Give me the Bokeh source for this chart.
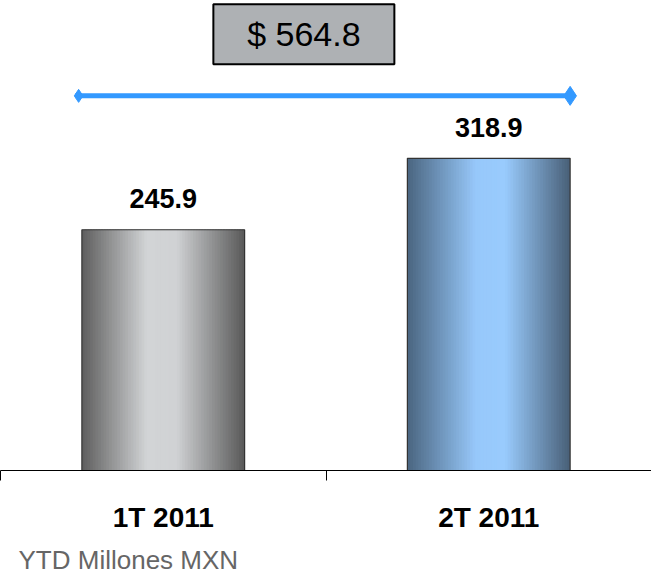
from bokeh.plotting import figure
from bokeh.models import Range1d, FixedTicker, Title
from bokeh.embed import file_html
from bokeh.resources import INLINE
from bokeh.core.properties import value

# ---- data ----
categories = ["1T 2011", "2T 2011"]
values = [245.9, 318.9]
unit_note = "YTD Millones MXN"

# gradient stops per bar: (fraction across bar, colour)
gray_stops = [(0.0, "#5e5e5e"), (0.40, "#d2d4d6"), (0.58, "#d0d2d4"), (1.0, "#595959")]
blue_stops = [(0.0, "#4a6580"), (0.42, "#97c8fa"), (0.60, "#99cbfd"), (1.0, "#485f77")]
bar_stops = [gray_stops, blue_stops]

FONT = "Liberation Sans"


def hex2rgb(h):
    h = h.lstrip("#")
    return tuple(int(h[i:i + 2], 16) for i in (0, 2, 4))


def interp(stops, t):
    for (t0, c0), (t1, c1) in zip(stops[:-1], stops[1:]):
        if t0 <= t <= t1:
            f = 0 if t1 == t0 else (t - t0) / (t1 - t0)
            a, b = hex2rgb(c0), hex2rgb(c1)
            r = [round(a[k] + (b[k] - a[k]) * f) for k in range(3)]
            return "#%02x%02x%02x" % tuple(r)
    return stops[-1][1]


cx = [i + 0.5 for i in range(len(categories))]
bar_w = 0.5

p = figure(width=651, height=582, output_backend="svg", toolbar_location=None,
           x_range=Range1d(0, len(categories)), y_range=Range1d(0, 480.1),
           y_axis_location=None, min_border_left=0, min_border_right=0,
           min_border_top=0, min_border_bottom=112)
p.outline_line_color = None
p.xgrid.visible = False
p.ygrid.visible = False
p.background_fill_color = "white"
p.border_fill_color = "white"

# gradient bars built from overlapping strips
N = 60
for i, v in enumerate(values):
    left = cx[i] - bar_w / 2
    step = bar_w / N
    lefts = [left + k * step for k in range(N)]
    rights = [min(left + (k + 1.8) * step, left + bar_w) for k in range(N)]
    cols = [interp(bar_stops[i], (k + 0.5) / N) for k in range(N)]
    p.quad(left=lefts, right=rights, bottom=[0] * N, top=[v] * N,
           fill_color=cols, line_color=None)
p.quad(left=[c - bar_w / 2 for c in cx], right=[c + bar_w / 2 for c in cx],
       bottom=[0] * len(values), top=values, fill_color=None,
       line_color="#333333", line_width=1.2)

# value labels
p.text(x=cx, y=values, text=["%.1f" % v for v in values], text_align="center",
       text_baseline="alphabetic", y_offset=-31, text_font=value(FONT),
       text_font_size="27px", text_font_style="bold", text_color="#000000")

# total bracket
total = sum(values)
bracket_y = max(values) * 1.2
x_left = cx[0] - 0.27
x_right = cx[-1] + 0.26
p.segment(x0=[x_left], y0=[bracket_y], x1=[x_right], y1=[bracket_y],
          line_color="#3399ff", line_width=5)
p.scatter(x=[x_left + 0.01], y=[bracket_y], marker="diamond", size=13,
          fill_color="#3399ff", line_color="#3399ff")
p.scatter(x=[x_right - 0.01], y=[bracket_y], marker="diamond", size=19,
          fill_color="#3399ff", line_color="#3399ff")

# total box
box_x = 0.932
box_y = max(values) * 1.397
p.rect(x=[box_x], y=[box_y], width=181, height=60, width_units="screen",
       height_units="screen", fill_color="#aeb1b4", line_color="#000000",
       line_width=2)
p.text(x=[box_x], y=[box_y], text=["$ %.1f" % total], text_align="center",
       text_baseline="middle", text_font=value(FONT), text_font_size="34px",
       text_color="#000000")

# category axis
ax = p.xaxis[0]
ax.ticker = FixedTicker(ticks=cx, minor_ticks=list(range(len(categories) + 1)))
ax.major_label_overrides = {c: n for c, n in zip(cx, categories)}
ax.axis_line_color = "#000000"
ax.axis_line_width = 1
ax.major_tick_out = 0
ax.major_tick_in = 0
ax.minor_tick_out = 10
ax.minor_tick_in = 0
ax.minor_tick_line_color = "#000000"
ax.major_label_standoff = 21
ax.major_label_text_font = FONT
ax.major_label_text_font_size = "28px"
ax.major_label_text_font_style = "bold"
ax.major_label_text_color = "#000000"

p.add_layout(Title(text=unit_note, align="left", offset=18, standoff=15,
                   text_font=FONT, text_font_size="26px",
                   text_font_style="normal", text_color="#666666"), "below")

open("out.html", "w").write(file_html(p, INLINE))
